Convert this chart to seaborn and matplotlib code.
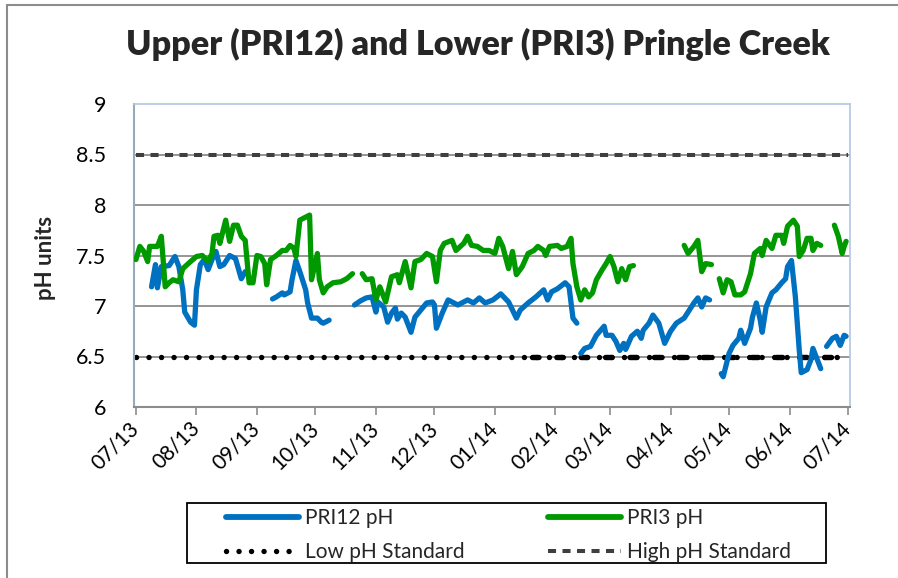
import numpy as np
import pandas as pd
import matplotlib
matplotlib.use("Agg")
import matplotlib.pyplot as plt
import matplotlib.dates as mdates
from matplotlib.lines import Line2D
from matplotlib.patches import Rectangle
import seaborn as sns

# ---- data -------------------------------------------------------------
START = pd.Timestamp("2013-07-01")
END = pd.Timestamp("2014-07-01")
DENSE_LOW_FROM = pd.Timestamp("2014-01-20")   # low standard logged more densely from here on
NaN = np.nan

TITLE = "Upper (PRI12) and Lower (PRI3) Pringle Creek"
Y_LABEL = "pH units"
LOW_STD = 6.5
HIGH_STD = 8.5

# days since 2013-07-01; NaN pH marks a break in logging
PRI12_DAY = [8, 10, 11, 13, 17, 20, 22, 24, 25, 28, 30, 31, 33, 35, 37, 39, 41, 43, 45, 48, 51, 54, 56,
             63,
             70, 72, 75, 76, 79, 80, 82, 84, 87, 88, 90, 93, 95, 96, 99,
             105,
             112, 115, 118, 121, 123, 124, 127, 129, 131, 133, 134, 136, 138, 141, 143, 146, 149, 152, 153,
             154, 157, 160, 165, 170, 173, 176, 179, 183, 187, 191, 193, 195, 197, 201, 205, 209, 211, 213,
             216, 220, 222, 224, 226,
             227,
             228, 230, 233, 236, 240, 241, 244, 246, 248, 250, 251, 254, 257, 259, 260, 263, 265, 268, 271,
             274, 277, 281, 283, 286, 288, 290, 292, 294,
             297,
             300, 301, 304, 306, 309, 310, 312, 315, 316, 318, 320, 321, 323, 326, 328, 331, 333, 334, 336,
             338, 340, 341, 344, 346, 347, 349, 351,
             352,
             354, 357, 359, 361, 363, 364]
PRI12_PH = [7.19, 7.41, 7.18, 7.39, 7.40, 7.49, 7.39, 7.16, 6.94, 6.84, 6.81, 7.16, 7.41, 7.46, 7.36, 7.46,
            7.54, 7.39, 7.41, 7.50, 7.47, 7.27, 7.34,
            NaN,
            7.07, 7.09, 7.13, 7.11, 7.14, 7.26, 7.45, 7.34, 7.16, 7.03, 6.88, 6.88, 6.84, 6.83, 6.86,
            NaN,
            7.01, 7.05, 7.08, 7.09, 6.94, 7.04, 6.99, 6.84, 6.93, 6.98, 6.87, 6.93, 6.89, 6.74, 6.89, 6.96,
            7.03, 7.04, 7.01, 6.78, 6.93, 7.06, 7.01, 7.06, 7.03, 7.08, 7.03, 7.06, 7.12, 7.04, 6.96, 6.88,
            6.96, 7.03, 7.09, 7.16, 7.06, 7.14, 7.17, 7.23, 7.19, 6.88, 6.83,
            NaN,
            6.53, 6.58, 6.60, 6.71, 6.80, 6.71, 6.71, 6.65, 6.56, 6.63, 6.57, 6.70, 6.75, 6.68, 6.76, 6.83,
            6.91, 6.83, 6.63, 6.75, 6.83, 6.88, 6.94, 7.03, 7.08, 6.99, 7.08, 7.06,
            NaN,
            6.33, 6.30, 6.53, 6.61, 6.68, 6.76, 6.63, 6.78, 6.89, 7.03, 6.86, 6.74, 6.99, 7.13, 7.16, 7.23,
            7.27, 7.39, 7.45, 7.09, 6.56, 6.34, 6.37, 6.47, 6.58, 6.48, 6.38,
            NaN,
            6.60, 6.68, 6.70, 6.61, 6.71, 6.70]

PRI3_DAY = [0, 2, 4, 6, 7, 10, 11, 13, 15, 17, 19, 22, 24, 28, 31, 34, 37, 39, 40, 42, 43, 46, 48, 50,
            52, 54, 56, 58, 60, 62, 64, 66, 67, 69, 72, 75, 77, 79, 81, 82, 84, 87, 89, 90, 93, 94, 96,
            98, 101, 105, 108, 111,
            113,
            116, 118, 121, 123, 125, 128, 131, 134, 135, 138, 141, 143, 146, 149, 152, 154, 156, 158, 162,
            164, 168, 170, 172, 175, 178, 181, 184, 186, 188, 191, 193, 195, 198, 201, 204, 206, 209, 210,
            212, 216, 218, 221, 223, 224, 226, 228, 230, 232, 234, 236, 239, 241, 243, 245, 247, 249, 251,
            253, 255,
            268,
            281, 283, 286, 288, 290, 292, 295,
            297,
            299, 301, 303, 305, 307, 310, 312, 315, 317, 320, 321, 323, 326, 328, 331, 332, 334, 337, 339,
            340, 342, 344, 346, 347, 349, 351,
            354,
            358, 360, 362, 363, 364]
PRI3_PH = [7.46, 7.59, 7.54, 7.44, 7.59, 7.59, 7.59, 7.69, 7.19, 7.23, 7.26, 7.24, 7.37, 7.44, 7.49, 7.50,
           7.44, 7.52, 7.69, 7.70, 7.62, 7.85, 7.64, 7.80, 7.80, 7.69, 7.65, 7.23, 7.23, 7.50, 7.49, 7.42,
           7.21, 7.46, 7.50, 7.55, 7.55, 7.60, 7.57, 7.49, 7.85, 7.88, 7.90, 7.26, 7.52, 7.26, 7.13, 7.19,
           7.23, 7.24, 7.27, 7.32,
           NaN,
           7.32, 7.26, 7.27, 7.06, 7.19, 7.04, 7.29, 7.31, 7.23, 7.44, 7.18, 7.44, 7.46, 7.52, 7.49, 7.24,
           7.55, 7.62, 7.65, 7.55, 7.62, 7.69, 7.60, 7.59, 7.55, 7.55, 7.52, 7.67, 7.59, 7.37, 7.54, 7.31,
           7.39, 7.52, 7.55, 7.59, 7.55, 7.50, 7.59, 7.60, 7.57, 7.59, 7.67, 7.42, 7.19, 7.06, 7.16, 7.09,
           7.13, 7.26, 7.36, 7.42, 7.49, 7.39, 7.24, 7.37, 7.26, 7.39, 7.40,
           NaN,
           7.60, 7.52, 7.59, 7.65, 7.34, 7.42, 7.41,
           NaN,
           7.27, 7.13, 7.26, 7.24, 7.11, 7.11, 7.14, 7.32, 7.52, 7.57, 7.50, 7.65, 7.57, 7.70, 7.70, 7.62,
           7.79, 7.85, 7.79, 7.49, 7.55, 7.67, 7.67, 7.55, 7.62, 7.60,
           NaN,
           7.80, 7.69, 7.52, 7.59, 7.64]

SERIES = ["PRI12 pH", "PRI3 pH"]
COLORS = {"PRI12 pH": "#0070C0", "PRI3 pH": "#009A00"}


def to_frame(name, days, ph):
    d = pd.DataFrame({"day": days, "pH": ph})
    d["seg"] = d["pH"].isna().cumsum()
    d = d.dropna()
    d["date"] = START + pd.to_timedelta(d["day"], unit="D")
    d["series"] = name
    return d


df = pd.concat([to_frame(SERIES[0], PRI12_DAY, PRI12_PH),
                to_frame(SERIES[1], PRI3_DAY, PRI3_PH)], ignore_index=True)

# ---- figure -----------------------------------------------------------
sns.set_theme(style="white")
plt.rcParams["font.family"] = ["Lato", "DejaVu Sans"]

W, H = 898, 578
fig = plt.figure(figsize=(W / 100, H / 100), dpi=100)
fig.patch.set_facecolor("white")
ax = fig.add_axes([134 / W, 1 - 407 / H, (850 - 134) / W, (407 - 104) / H])

# horizontal gridlines
for v in [6.5, 7.0, 7.5, 8.0, 8.5]:
    ax.axhline(v, color="#8C8C8C", lw=1.3, zorder=0)

# standards
LOW_DOTS = (0, (0.01, 2.3))
HIGH_DASH = (0, (2.0, 1.6))
ax.plot([START, END], [HIGH_STD, HIGH_STD], color="#3F3F3F", lw=2.9,
        linestyle=HIGH_DASH, zorder=2)
ax.plot([START, END], [LOW_STD, LOW_STD], color="black", lw=3.9,
        linestyle=LOW_DOTS, dash_capstyle="round", zorder=2)
ax.plot([DENSE_LOW_FROM, END], [LOW_STD, LOW_STD], color="black", lw=3.9,
        linestyle=(0, (1.2, 3.3)), dash_capstyle="round", zorder=2)

# monitoring series
n_before = len(ax.lines)
sns.lineplot(data=df, x="date", y="pH", hue="series", units="seg", estimator=None,
             palette=COLORS, lw=3.8, sort=False, legend=False, ax=ax, zorder=3)
for ln in ax.lines[n_before:]:
    ln.set_linewidth(3.8)
    ln.set_solid_capstyle("round")
    ln.set_solid_joinstyle("round")

ax.set_ylim(6, 9)
ax.set_yticks([6, 6.5, 7, 7.5, 8, 8.5, 9])
ax.set_yticklabels(["6", "6.5", "7", "7.5", "8", "8.5", "9"])
ax.set_xlim(START - pd.Timedelta(days=1), END + pd.Timedelta(days=1))
ax.xaxis.set_major_locator(mdates.MonthLocator())
ax.xaxis.set_major_formatter(mdates.DateFormatter("%m/%y"))

ax.tick_params(axis="y", length=0, pad=20, labelsize=15.5, labelcolor="black")
ax.tick_params(axis="x", length=6, width=1.2, color="#8C8C8C", direction="out",
               pad=7, labelsize=15, labelcolor="black", bottom=True)
for lab in ax.get_xticklabels():
    lab.set_rotation(45)
    lab.set_ha("right")
    lab.set_va("center")
    lab.set_rotation_mode("anchor")

ax.set_xlabel("")
ax.set_ylabel("")
for side in ["top", "right"]:
    ax.spines[side].set_color("#B4C6E4")
    ax.spines[side].set_linewidth(1.2)
ax.spines["left"].set_color("#9AA8BC")
ax.spines["left"].set_linewidth(1.5)
ax.spines["bottom"].set_color("#8C8C8C")
ax.spines["bottom"].set_linewidth(1.5)

fig.text(45 / W, 1 - 258 / H, Y_LABEL, rotation=90, ha="center", va="center",
         fontsize=16, fontweight="bold")
fig.text(478 / W, 1 - 44 / H, TITLE, ha="center", va="center",
         fontsize=24.6, fontweight="heavy")

# legend
handles = [
    Line2D([], [], color=COLORS["PRI12 pH"], lw=4.2, solid_capstyle="round"),
    Line2D([], [], color="black", lw=3.9, linestyle=LOW_DOTS, dash_capstyle="round"),
    Line2D([], [], color=COLORS["PRI3 pH"], lw=4.2, solid_capstyle="round"),
    Line2D([], [], color="#3F3F3F", lw=2.9, linestyle=HIGH_DASH),
]
labels = ["PRI12 pH", "Low pH Standard", "PRI3 pH", "High pH Standard"]
fig.legend(handles, labels, ncol=2, frameon=False, loc="upper left",
           bbox_to_anchor=(226 / W, 1 - 508 / H), borderpad=0, borderaxespad=0,
           handlelength=3.5, handletextpad=0.3, columnspacing=4.0,
           labelspacing=0.68, fontsize=15)
fig.add_artist(Rectangle((187 / W, 1 - 563 / H), (826 - 187) / W, (563 - 503) / H,
                         transform=fig.transFigure, fill=False, edgecolor="black", lw=1.3))

# outer chart border (left and top edges visible)
fig.add_artist(Rectangle((7 / W, -0.1), 1.2, 1 - 5 / H + 0.1, transform=fig.transFigure,
                         fill=False, edgecolor="#8C8C8C", lw=1.5))

fig.savefig("out.png", dpi=100, facecolor="white")
